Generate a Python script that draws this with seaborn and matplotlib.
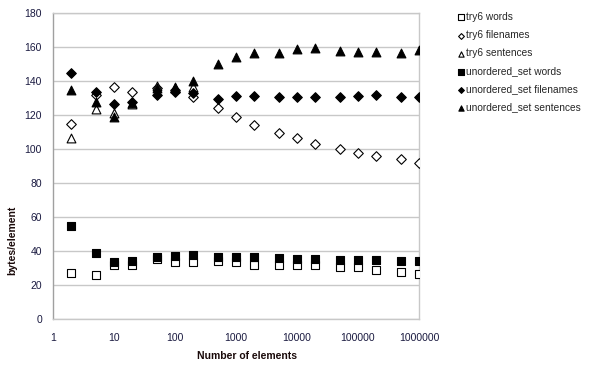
import matplotlib
matplotlib.use("Agg")
import matplotlib.pyplot as plt
import seaborn as sns
import pandas as pd

# number of elements (x, log scale)
n_elements = [2, 5, 10, 20, 50, 100, 200, 500, 1000, 2000, 5000, 10000,
              20000, 50000, 100000, 200000, 500000, 1000000]

try6_words = [27, 26, 31.5, 31.5, 35.5, 33.5, 33.5, 34, 33.5, 32, 31.5, 31.5,
              31.5, 30.6, 30.6, 28.8, 27.6, 26.5]
try6_filenames = [114.7, 132, 136.7, 133.5, 136, 135, 130.5, 123.9, 119, 114.1,
                  109.2, 106.3, 103, 100, 97.8, 95.9, 93.9, 92]
try6_sentences = [106.3, 123.5, 121, 126.5, 137, 136, 136.7]
uset_words = [54.5, 38.8, 33.8, 34, 36.6, 37.2, 37.8, 36.4, 36.6, 36.6, 35.6,
              35.3, 35.3, 34.7, 34.7, 34.7, 34, 34]
uset_filenames = [145, 133.7, 126.5, 127.5, 131.8, 133.7, 133, 129.4, 131.2,
                  131.2, 130.7, 130.8, 130.6, 130.6, 131.2, 131.8, 130.6, 130.4]
uset_sentences = [134.7, 127.6, 118.6, 127, 136, 136.5, 140.2, 149.8, 153.9,
                  156.3, 156.4, 158.6, 159.2, 157.6, 156.9, 157, 156.5, 158.2]

series = [
    ("try6 words", try6_words, "s", "white", 38),
    ("try6 filenames", try6_filenames, "D", "white", 24),
    ("try6 sentences", try6_sentences, "^", "white", 40),
    ("unordered_set words", uset_words, "s", "black", 38),
    ("unordered_set filenames", uset_filenames, "D", "black", 24),
    ("unordered_set sentences", uset_sentences, "^", "black", 40),
]

sns.set_style("white")
plt.rcParams["font.family"] = ["Liberation Sans", "DejaVu Sans"]

fig = plt.figure(figsize=(6, 3.66), dpi=100)
ax = fig.add_axes([53 / 600, 47 / 366, 366 / 600, 306 / 366])

for i, (label, vals, marker, face, size) in enumerate(series):
    df = pd.DataFrame({"n": n_elements[:len(vals)], "v": vals})
    sns.scatterplot(data=df, x="n", y="v", marker=marker, s=size,
                    facecolor=face, edgecolor="black", linewidth=0.8,
                    label=label, ax=ax, zorder=3 + i)

ax.set_xscale("log")
ax.set_xlim(1, 1000000)
ax.set_ylim(0, 180)
ax.set_yticks(range(0, 181, 20))
ax.set_xticks([1, 10, 100, 1000, 10000, 100000, 1000000])
ax.set_xticklabels(["1", "10", "100", "1000", "10000", "100000", "1000000"])
ax.minorticks_off()
ax.yaxis.grid(True, color="#c8c8c8", linewidth=1)
ax.xaxis.grid(False)
for sp in ax.spines.values():
    sp.set_color("#c8c8c8")
    sp.set_linewidth(1)
ax.spines["left"].set_color("#a0a0a0")
ax.tick_params(axis="both", length=0, labelsize=7.5, colors="#1a1a40")
ax.tick_params(axis="y", pad=8)
ax.tick_params(axis="x", pad=10)

ax.set_xlabel("Number of elements", fontsize=7.5, fontweight="bold",
              color="#1a0a0a")
ax.set_ylabel("bytes/element", fontsize=7.5, fontweight="bold",
              color="#1a0a0a")
ax.xaxis.set_label_coords(0.529, -0.105)
ax.yaxis.set_label_coords(-0.098, 0.258)

handles, labels = ax.get_legend_handles_labels()
ax.get_legend().remove()
fig.legend(handles, labels, loc="upper left", bbox_to_anchor=(452 / 600, 1 - 8 / 366),
           frameon=False, fontsize=7.3, handletextpad=0.0, labelspacing=0.8,
           markerscale=0.6, handlelength=1.0, borderaxespad=0)

plt.savefig("out.png", dpi=100)
